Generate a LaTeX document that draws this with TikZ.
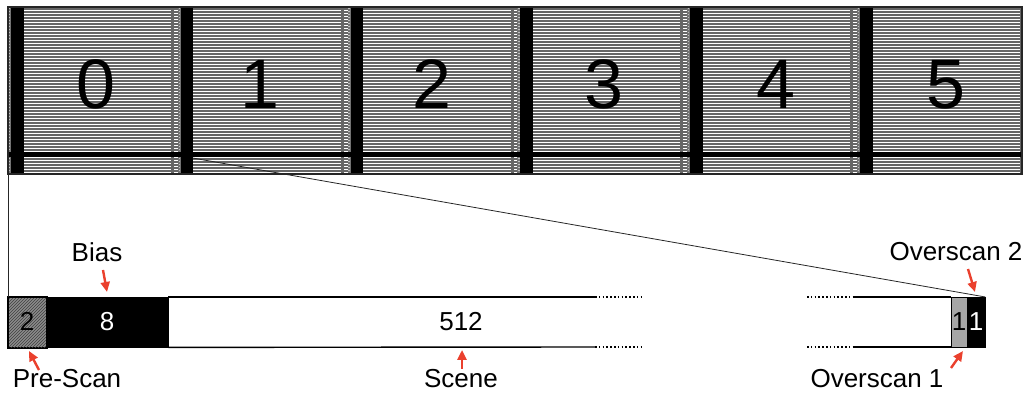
\documentclass[tikz,border=0pt]{standalone}
\usepackage{fontspec}
\setmainfont{Liberation Sans}
\usetikzlibrary{patterns,arrows.meta}
\definecolor{callred}{RGB}{234,64,45}

\begin{document}
\begin{tikzpicture}[x=1pt,y=-1pt,
  bigdigit/.style={font=\fontsize{70}{80}\selectfont,anchor=base,inner sep=0pt},
  label/.style={font=\fontsize{26}{29}\selectfont,anchor=base,inner sep=0pt},
  boxtext/.style={font=\fontsize{26}{29}\selectfont,anchor=base,inner sep=0pt},
  callout/.style={draw=callred,line width=2.4pt,-{Triangle[length=10pt,width=9pt]}},
  frameline/.style={line width=1.4pt,black},
  zoomline/.style={line width=0.8pt,black!85},
  gap/.style={line width=1.4pt,black,dash pattern=on 1.6pt off 2.2pt}]
\useasboundingbox (0,0) rectangle (1026,395);

% ---- striped strip of six tiles ----
\fill[white] (8,7) rectangle (1022,174);
\foreach \y in {9,12,...,174}
  \draw[black!60,line width=1.1pt] (8,\y) -- (1022,\y);
\foreach \k in {0,...,5}{
  \pgfmathsetmacro\b{11+169.8*\k}
  % pre-scan column
  \fill[black!55] (\b-3,7) rectangle (\b,174);
  \foreach \yy in {8,11,...,172}
    \fill[black!25] (\b-2.2,\yy) rectangle (\b-0.8,\yy+1.2);
  % bias column
  \fill[black] (\b,7) rectangle (\b+12.5,174);
  % overscan column
  \fill[black!60] (\b+160,7) rectangle (\b+163,174);
}
\fill[black] (8,152) rectangle (1022,157.5);
\draw[black!85,line width=1.5pt] (8,7) rectangle (1022,174);

\node[bigdigit] (t0) at (96,109) {0};
\node[bigdigit] (t1) at (260,109) {1};
\node[bigdigit] (t2) at (432,109) {2};
\node[bigdigit] (t3) at (604,109) {3};
\node[bigdigit] (t4) at (776,109) {4};
\node[bigdigit] (t5) at (946,109) {5};

% ---- expanded line ----
\coordinate (zl) at (8,174);
\coordinate (zr) at (192.5,158);

% pre-scan box
\node[draw=black,line width=1.2pt,minimum width=38pt,minimum height=50pt,inner sep=0pt,
      fill=black!45,anchor=north west] (pre) at (8,297) {};
\fill[pattern=north east lines,pattern color=black!75] (pre.north west) rectangle (pre.south east);
\draw[line width=1.2pt] (pre.north west) rectangle (pre.south east);
\node[boxtext] at (27,331) {2};
% bias box
\node[draw=black,fill=black,minimum width=122pt,minimum height=50pt,inner sep=0pt,
      anchor=north west] (bias) at (46,297) {};
\node[boxtext,text=white] at (107,331) {8};
% scene lines
\draw[frameline] (bias.north east) -- (595,297);
\draw[frameline] (bias.south east) -- (595,347);
\draw[gap] (595,297) -- (643,297);
\draw[gap] (595,347) -- (643,347);
\draw[gap] (807,297) -- (853,297);
\draw[gap] (807,347) -- (853,347);
\draw[frameline] (853,297) -- (951,297);
\draw[frameline] (853,347) -- (951,347);
\node[boxtext] (scene) at (461,331) {512};
% overscan boxes
\node[draw=black,line width=1.2pt,fill=black!35,minimum width=16pt,minimum height=50pt,inner sep=0pt,
      anchor=north west] (os1) at (951,297) {};
\node[draw=black,fill=black,minimum width=18pt,minimum height=50pt,inner sep=0pt,
      anchor=north west] (os2) at (967,297) {};
\node[boxtext] at (959,331) {1};
\node[boxtext,text=white] at (976,331) {1};

% zoom connectors
\draw[zoomline] (zl) -- (pre.north west);
\draw[zoomline] (zr) -- (os2.north east);

% ---- labels and callouts ----
\node[label] (lbias) at (97,262) {Bias};
\node[label] (lpre) at (67,388) {Pre-Scan};
\node[label] (lscene) at (461,388) {Scene};
\node[label] (los2) at (956,261) {Overscan 2};
\node[label] (los1) at (877,388) {Overscan 1};

\coordinate (abias) at (103,270);
\coordinate (apre) at (39,370);
\coordinate (ascene) at (462,369);
\coordinate (aos2) at (968,269);
\coordinate (aos1) at (951,368);
\draw[callout] (abias) -- (107,292);
\draw[callout] (apre) -- (29,351);
\draw[callout] (ascene) -- (462,350);
\draw[callout] (aos2) -- (975,292);
\draw[callout] (aos1) -- (963,351);
\end{tikzpicture}
\end{document}
